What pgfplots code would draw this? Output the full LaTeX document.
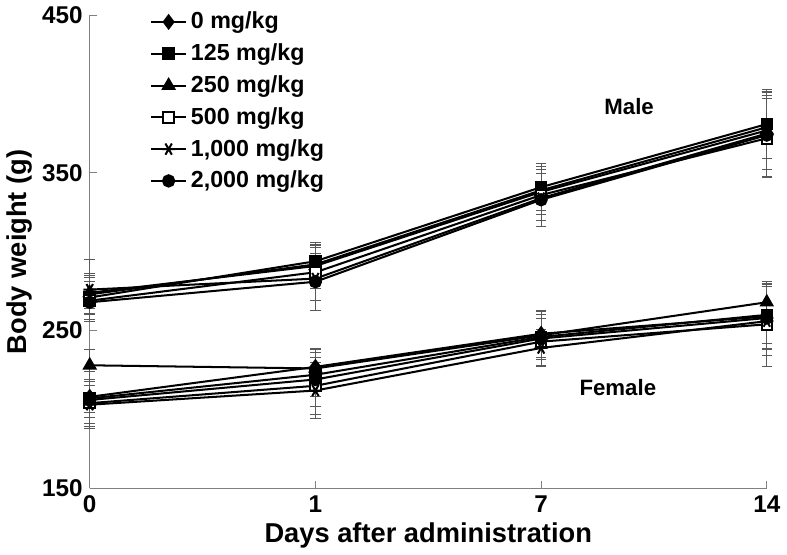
\documentclass[border=0pt]{standalone}
\usepackage{fontspec}
\setmainfont{Liberation Sans}
\usepackage{pgfplots}
\pgfplotsset{compat=1.18}
\usepackage{pgfplotstable}

% body weight (g) by dose: mean and SD, days 0, 1, 7, 14 at x = 0..3
\pgfplotstableread{
x  d0  e0  d125 e125 d250 e250 d500 e500 d1000 e1000 d2000 e2000
0  273 12  271  15   274  10   269  12   276   19    268   8
1  292 12  294  12   291  14   287  18   283   20    281   18
2  339 15  341  15   338  18   336  20   334   18    333   17
3  379 20  381  22   377  25   372  25   375   27    374   27
}\male
\pgfplotstableread{
x  d0  e0  d125 e125 d250 e250 d500 e500 d1000 e1000 d2000 e2000
0  208 10  207  12   228  10   204  15   203   12    206   18
1  227 12  222  14   226  12   215  18   212   18    219   17
2  248 15  246  14   247  15   243  15   239   12    245   18
3  259 20  260  18   268  12   254  27   256   22    258   20
}\female

\pgfplotsset{
  errb/.style={
    error bars/y dir=both, error bars/y explicit,
    error bars/error bar style={line width=0.4pt, gray!70!black},
    error bars/error mark options={rotate=90, mark size=2.6pt, line width=0.4pt, gray!70!black},
  },
  s0/.style={black, line width=1pt, mark=diamond*, mark size=3.2pt, errb},
  s125/.style={black, line width=1pt, mark=square*, mark size=2.6pt, errb},
  s250/.style={black, line width=1pt, mark=triangle*, mark size=3.2pt, errb},
  s500/.style={black, line width=1pt, mark=square*, mark size=2.6pt, mark options={fill=white}, errb},
  s1000/.style={black, line width=1pt, mark=asterisk, mark size=3.2pt, mark options={rotate=90}, errb},
  s2000/.style={black, line width=1pt, mark=*, mark size=2.8pt, errb},
}

\begin{document}
\begin{tikzpicture}
\begin{axis}[
    scale only axis,
    width=335pt, height=234pt,
    xmin=0, xmax=3,
    ymin=150, ymax=450,
    axis lines=left,
    axis line style={-, gray, line width=0.5pt},
    tick align=inside,
    major tick length=3.5pt,
    tick style={gray, line width=0.5pt},
    xtick={0,1,2,3},
    xticklabels={0,1,7,14},
    ytick={150,250,350,450},
    /pgf/number format/assume math mode=true,
    ticklabel style={font=\bfseries\fontsize{12}{14}\selectfont},
    xlabel={Days after administration},
    ylabel={Body weight (g)},
    label style={font=\bfseries\fontsize{13.5}{16}\selectfont},
    xlabel style={yshift=2pt},
    ylabel style={yshift=-2pt},
    clip=false,
    legend cell align=left,
    legend style={at={(axis description cs:0.08,1.025)}, anchor=north west,
        draw=none, fill=none, font=\bfseries\fontsize{11.5}{13}\selectfont,
        row sep=1.9pt},
]
\addplot[s0] table[x=x, y=d0, y error=e0] {\male};
\addlegendentry{0 mg/kg}
\addplot[s125] table[x=x, y=d125, y error=e125] {\male};
\addlegendentry{125 mg/kg}
\addplot[s250] table[x=x, y=d250, y error=e250] {\male};
\addlegendentry{250 mg/kg}
\addplot[s500] table[x=x, y=d500, y error=e500] {\male};
\addlegendentry{500 mg/kg}
\addplot[s1000] table[x=x, y=d1000, y error=e1000] {\male};
\addlegendentry{1,000 mg/kg}
\addplot[s2000] table[x=x, y=d2000, y error=e2000] {\male};
\addlegendentry{2,000 mg/kg}

\addplot[s0, forget plot] table[x=x, y=d0, y error=e0] {\female};
\addplot[s125, forget plot] table[x=x, y=d125, y error=e125] {\female};
\addplot[s250, forget plot] table[x=x, y=d250, y error=e250] {\female};
\addplot[s500, forget plot] table[x=x, y=d500, y error=e500] {\female};
\addplot[s1000, forget plot] table[x=x, y=d1000, y error=e1000] {\female};
\addplot[s2000, forget plot] table[x=x, y=d2000, y error=e2000] {\female};

\node[font=\bfseries\fontsize{11}{12}\selectfont] at (axis cs:2.39,392) {Male};
\node[font=\bfseries\fontsize{11}{12}\selectfont] at (axis cs:2.34,214) {Female};
\end{axis}
\end{tikzpicture}
\end{document}
